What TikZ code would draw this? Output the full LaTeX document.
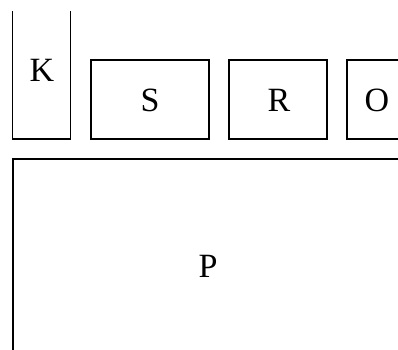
\documentclass[tikz,border=0pt]{standalone}
\usepackage{fontspec}
\setmainfont{Liberation Serif}
\begin{document}
\begin{tikzpicture}[x=1pt,y=-1pt,line width=1.3pt,lbl/.style={font=\fontsize{34}{36}\selectfont}]
\useasboundingbox (0,0) rectangle (398,349);
\clip (0,0) rectangle (398,349);
\draw(12.5,11)--(12.5,139)--(70.5,139)--(70.5,11);
\draw(91,60)rectangle(209,139);
\draw(229,60)rectangle(327,139);
\draw(402,60)--(347,60)--(347,139)--(402,139);
\draw(402,159)--(13,159)--(13,352);
\node[lbl](k)at(42,70){K};
\node[lbl](s)at(150,100){S};
\node[lbl](r)at(279,100){R};
\node[lbl](o)at(377,100){O};
\node[lbl](p)at(208,266){P};
\end{tikzpicture}
\end{document}
